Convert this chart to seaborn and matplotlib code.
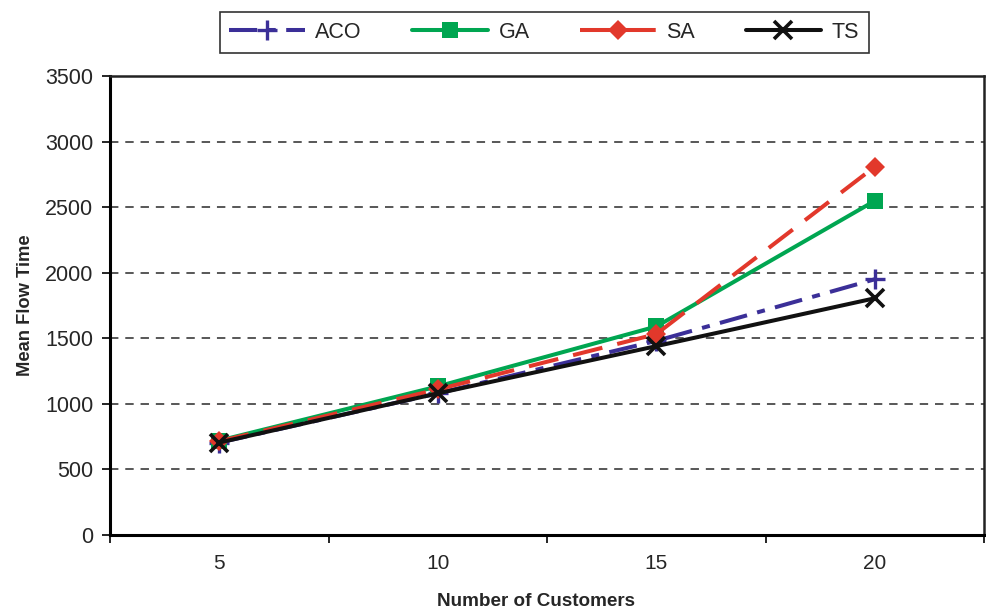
import matplotlib
matplotlib.use("Agg")
import matplotlib.pyplot as plt
import seaborn as sns
import pandas as pd
import numpy as np

customers = [5, 10, 15, 20]
aco = [705, 1080, 1480, 1950]
ga = [720, 1133, 1590, 2548]
sa = [715, 1110, 1532, 2808]
ts = [705, 1080, 1440, 1805]
y_ticks = [0, 500, 1000, 1500, 2000, 2500, 3000, 3500]

sns.set_theme(style="white")
plt.rcParams["font.family"] = ["Liberation Sans", "DejaVu Sans"]

df = pd.DataFrame({
    "Customers": customers * 4,
    "Mean Flow Time": aco + ga + sa + ts,
    "Algorithm": ["ACO"] * 4 + ["GA"] * 4 + ["SA"] * 4 + ["TS"] * 4,
})

styles = {
    "ACO": dict(color="#3b2f98", dashes=(7, 2.6, 2, 2.6), marker="+", ms=14, mew=2.4),
    "GA": dict(color="#00a651", dashes=None, marker="s", ms=11, mew=0),
    "SA": dict(color="#e2382b", dashes=(7.5, 3.8), marker="D", ms=10, mew=0),
    "TS": dict(color="#111111", dashes=None, marker="x", ms=13, mew=2.6),
}

fig = plt.figure(figsize=(9.86, 6.11), dpi=100)
ax = fig.add_axes([0.1116, 0.1244, 0.8864, 0.7512])

for name, st in styles.items():
    sub = df[df["Algorithm"] == name]
    sns.lineplot(data=sub, x="Customers", y="Mean Flow Time", ax=ax,
                 color=st["color"], lw=2.9, marker=st["marker"],
                 markersize=st["ms"], markeredgewidth=st["mew"],
                 markeredgecolor=st["color"], label=name, legend=False)
    ln = ax.lines[-1]
    if st["dashes"] is not None:
        ln.set_dashes(st["dashes"])

ax.set_xlim(2.5, 22.5)
ax.set_ylim(0, 3500)
ax.set_yticks(y_ticks)
ax.set_yticklabels([str(v) for v in y_ticks], fontsize=15.5)

# category boundaries carry tick marks; category centres carry labels
ax.set_xticks(np.arange(2.5, 23, 5))
ax.set_xticklabels([])
ax.set_xticks(customers, minor=True)
ax.set_xticklabels([str(c) for c in customers], minor=True, fontsize=15)
ax.tick_params(axis="x", which="major", direction="out", length=6, width=1.2,
               color="black", bottom=True)
ax.tick_params(axis="x", which="minor", length=0, pad=14)
ax.tick_params(axis="y", direction="out", length=6, width=1.2, color="black",
               left=True, pad=6)

for v in y_ticks[1:-1]:
    ax.axhline(v, color="#2a2a2a", lw=1.1, dashes=(5.5, 4.5), zorder=0)

for side in ["left", "bottom"]:
    ax.spines[side].set_linewidth(2.2)
    ax.spines[side].set_color("black")
for side in ["top", "right"]:
    ax.spines[side].set_linewidth(1.8)
    ax.spines[side].set_color("#222222")

ax.set_xlabel("Number of Customers", fontsize=13.6, fontweight="bold")
ax.xaxis.set_label_coords(0.487, -0.127)
ax.set_ylabel("Mean Flow Time", fontsize=13.2, fontweight="bold", labelpad=8)

handles = ax.lines[:4]
leg = fig.legend(handles, ["ACO", "GA", "SA", "TS"], loc="center",
                 bbox_to_anchor=(0.552, 0.947), ncol=4, frameon=True,
                 fancybox=False, edgecolor="black", fontsize=15.5,
                 handlelength=3.5, columnspacing=2.35, borderpad=0.45,
                 handletextpad=0.5)
leg.get_frame().set_linewidth(1.2)

fig.savefig("out.png", dpi=100)
